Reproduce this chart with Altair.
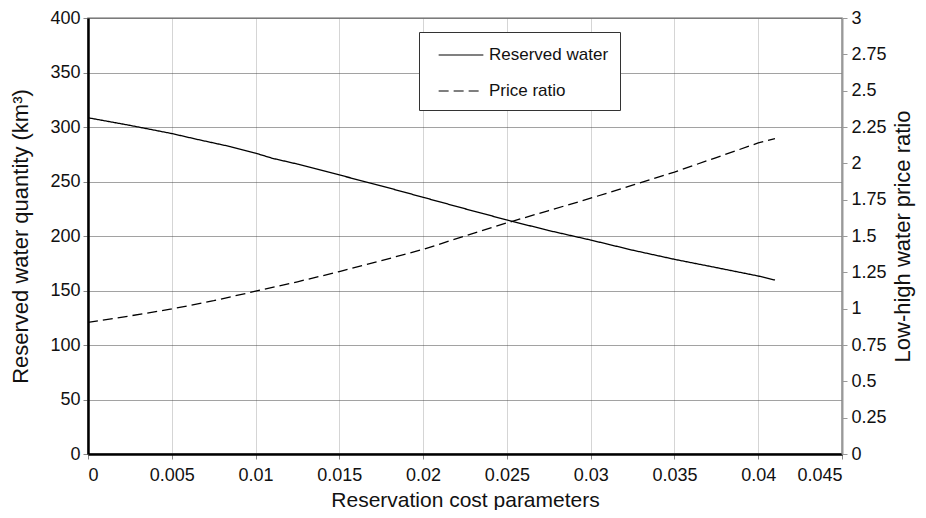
import altair as alt
import pandas as pd

# Reserved water quantity (km^3) vs reservation cost parameter
rw_x = [0.0, 0.0025, 0.005, 0.0065, 0.0085, 0.01, 0.011, 0.0125, 0.015, 0.0175,
        0.02, 0.0225, 0.025, 0.0275, 0.03, 0.0325, 0.035, 0.0375, 0.04, 0.041]
rw_y = [308.5, 301.5, 294, 288.7, 282, 276, 271.3, 266, 256, 246,
        235.5, 225, 214.7, 205, 196.3, 187, 178.6, 171, 163.3, 159.6]

# Low-high water price ratio
pr_x = [0.0, 0.0025, 0.005, 0.0075, 0.01, 0.0125, 0.015, 0.0175, 0.02, 0.0225,
        0.025, 0.0275, 0.03, 0.0325, 0.035, 0.0375, 0.04, 0.041]
pr_y = [0.906, 0.95, 0.998, 1.055, 1.12, 1.185, 1.255, 1.33, 1.408, 1.50,
        1.59, 1.675, 1.76, 1.85, 1.94, 2.04, 2.14, 2.17]

series_names = ["Reserved water", "Price ratio"]
x_ticks = [0, 0.005, 0.01, 0.015, 0.02, 0.025, 0.03, 0.035, 0.04, 0.045]
left_ticks = [0, 50, 100, 150, 200, 250, 300, 350, 400]
right_ticks = [0, 0.25, 0.5, 0.75, 1, 1.25, 1.5, 1.75, 2, 2.25, 2.5, 2.75, 3]

df_rw = pd.DataFrame({"x": rw_x, "v": rw_y, "series": series_names[0]})
df_pr = pd.DataFrame({"x": pr_x, "v": pr_y, "series": series_names[1]})

FONT = "Liberation Sans"

xenc = alt.X("x:Q", scale=alt.Scale(domain=[0, 0.045], nice=False),
             axis=alt.Axis(values=x_ticks, format=".6~g", title="Reservation cost parameters",
                           domainColor="black", domainWidth=2.5, tickColor="#888", tickSize=5,
                           grid=True, gridColor="#aaa", gridDash=[1, 1], gridWidth=1,
                           labelPadding=7, titlePadding=5, titleFontSize=21))

dash = alt.StrokeDash("series:N",
                      scale=alt.Scale(domain=series_names, range=[[1, 0], [10, 5]]),
                      legend=alt.Legend(title=None, orient="none", legendX=331, legendY=14,
                                        symbolType="M-2,0L2,0", symbolSize=500,
                                        symbolStrokeColor="black", symbolStrokeWidth=1.2,
                                        symbolFillColor="transparent", symbolOffset=19,
                                        labelFontSize=17, labelFont=FONT, labelColor="#111",
                                        labelOffset=16, rowPadding=16, padding=11,
                                        strokeColor="#333", fillColor="white"))

left = alt.Chart(df_rw).mark_line(color="black", strokeWidth=1.3).encode(
    x=xenc,
    y=alt.Y("v:Q", scale=alt.Scale(domain=[0, 400], nice=False),
            axis=alt.Axis(values=left_ticks, title="Reserved water quantity (km³)",
                          domainColor="black", domainWidth=2.5, tickColor="#888", tickSize=5,
                          grid=True, gridColor="#444", gridDash=[1, 1], gridWidth=1,
                          labelPadding=3, titlePadding=17, titleFontSize=22)),
    strokeDash=dash,
)

right = alt.Chart(df_pr).mark_line(color="black", strokeWidth=1.3).encode(
    x=xenc,
    y=alt.Y("v:Q", scale=alt.Scale(domain=[0, 3], nice=False),
            axis=alt.Axis(orient="right", values=right_ticks, format=".6~g",
                          title="Low-high water price ratio", titleAngle=270,
                          domainColor="#999", domainWidth=2, tickColor="#999", tickSize=5,
                          grid=False, labelPadding=4, titlePadding=28, titleFontSize=22)),
    strokeDash=dash,
)

chart = alt.layer(left, right).resolve_scale(y="independent").properties(
    width=754, height=436,
    autosize=alt.AutoSizeParams(type="none"),
    padding={"left": 80, "top": 10, "right": 76, "bottom": 56},
).configure_view(stroke="#999", strokeWidth=1.5).configure_axis(
    labelFont=FONT, titleFont=FONT, labelFontSize=18, titleFontSize=20,
    labelColor="#111", titleColor="#111", titleFontWeight="normal",
)

chart.save("out.html", embed_options={"renderer": "svg", "actions": False})
